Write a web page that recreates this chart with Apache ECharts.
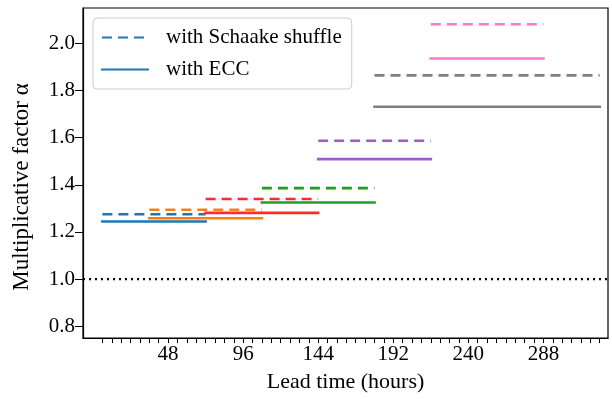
<!DOCTYPE html>
<html>
<head>
<meta charset="utf-8">
<script src="https://cdn.jsdelivr.net/npm/echarts@6/dist/echarts.min.js"></script>
<style>html,body{margin:0;padding:0;background:#fff}#c{width:612px;height:399px}</style>
</head>
<body>
<div id="c"></div>
<script>
// Lead-time windows (hours)
const windowStart = [6, 36, 72, 108, 144, 180, 216];
const windowEnd   = [72, 108, 144, 180, 216, 324, 288];
// Multiplicative factor alpha per window
const schaakeValues = [1.275, 1.294, 1.340, 1.386, 1.587, 1.864, 2.081];
const eccValues     = [1.244, 1.258, 1.281, 1.325, 1.509, 1.731, 1.936];
// Reference level
const referenceLevel = 1.0;
// Ticks
const xTickValues = [6,12,18,24,30,36,42,48,54,60,66,72,78,84,90,96,102,108,114,120,126,132,138,144,150,156,162,168,174,180,186,192,198,204,210,216,222,228,234,240,246,252,258,264,270,276,282,288,294,300,306,312,318,324];
const xLabelValues = [48, 96, 144, 192, 240, 288];
const yTickValues = [0.8, 1.0, 1.2, 1.4, 1.6, 1.8, 2.0];

const colors = ['#1f77b4', '#ff7f0e', '#ff2a2a', '#1fa01f', '#9b5fc8', '#7f7f7f', '#ff77c8'];
const FONT = 'Liberation Serif';
const LW = 2.6;

const series = [];
for (let i = 0; i < windowStart.length; i++) {
  series.push({
    name: i === 0 ? 'with Schaake shuffle' : 'Schaake ' + windowStart[i] + '-' + windowEnd[i] + ' h',
    type: 'line', symbol: 'none', silent: true,
    data: [[windowStart[i], schaakeValues[i]], [windowEnd[i], schaakeValues[i]]],
    lineStyle: { color: colors[i], width: LW, type: [10, 6] },
    itemStyle: { color: colors[i] },
    z: 3
  });
  series.push({
    name: i === 0 ? 'with ECC' : 'ECC ' + windowStart[i] + '-' + windowEnd[i] + ' h',
    type: 'line', symbol: 'none', silent: true,
    data: [[windowStart[i], eccValues[i]], [windowEnd[i], eccValues[i]]],
    lineStyle: { color: colors[i], width: LW, type: 'solid', cap: 'square' },
    itemStyle: { color: colors[i] },
    z: 3
  });
}
series.push({
  name: 'reference', type: 'line', symbol: 'none', silent: true,
  data: [[-6.4, referenceLevel], [329.3, referenceLevel]],
  lineStyle: { color: '#000', width: 2.2, type: [2, 4] },
  z: 2
});

const chart = echarts.init(document.getElementById('c'), null, { renderer: 'canvas' });
chart.setOption({
  animation: false,
  backgroundColor: '#fff',
  textStyle: { fontFamily: FONT },
  grid: { left: 83, right: 4, top: 8, bottom: 61, show: true, borderColor: '#000', borderWidth: 1.2, backgroundColor: 'transparent' },
  legend: {
    data: ['with Schaake shuffle', 'with ECC'],
    orient: 'vertical', left: 93, top: 18,
    padding: [9, 10, 9, 8],
    itemWidth: 46, itemHeight: 14, itemGap: 11,
    itemStyle: { opacity: 0 },
    backgroundColor: 'rgba(255,255,255,0.85)',
    borderColor: '#cccccc', borderWidth: 1, borderRadius: 4,
    textStyle: { fontFamily: FONT, fontSize: 21, color: '#000', padding: [0, 0, 0, 13] }
  },
  graphic: [{
    type: 'text', x: 22, y: 187, rotation: Math.PI / 2,
    style: { text: 'Multiplicative factor α', font: '23px "Liberation Serif"', fill: '#000', align: 'center', verticalAlign: 'middle' }
  }],
  xAxis: {
    type: 'value', min: -6.4, max: 329.3,
    name: 'Lead time (hours)', nameLocation: 'middle', nameGap: 33,
    nameTextStyle: { fontFamily: FONT, fontSize: 22, color: '#000' },
    axisLine: { show: true, onZero: false, lineStyle: { color: '#000', width: 1.2 } },
    axisTick: { show: true, length: 5, customValues: xTickValues, lineStyle: { color: '#000', width: 1 } },
    axisLabel: { show: true, customValues: xLabelValues, margin: 6, fontFamily: FONT, fontSize: 21, color: '#000' },
    splitLine: { show: false }
  },
  yAxis: {
    type: 'value', min: 0.75, max: 2.15,
    axisLine: { show: true, onZero: false, lineStyle: { color: '#000', width: 1.2 } },
    axisTick: { show: true, length: 8, customValues: yTickValues, lineStyle: { color: '#000', width: 1 } },
    axisLabel: { show: true, customValues: yTickValues, margin: 8, fontFamily: FONT, fontSize: 21, color: '#000',
      formatter: v => v.toFixed(1) },
    splitLine: { show: false }
  },
  series: series
});
</script>
</body>
</html>
